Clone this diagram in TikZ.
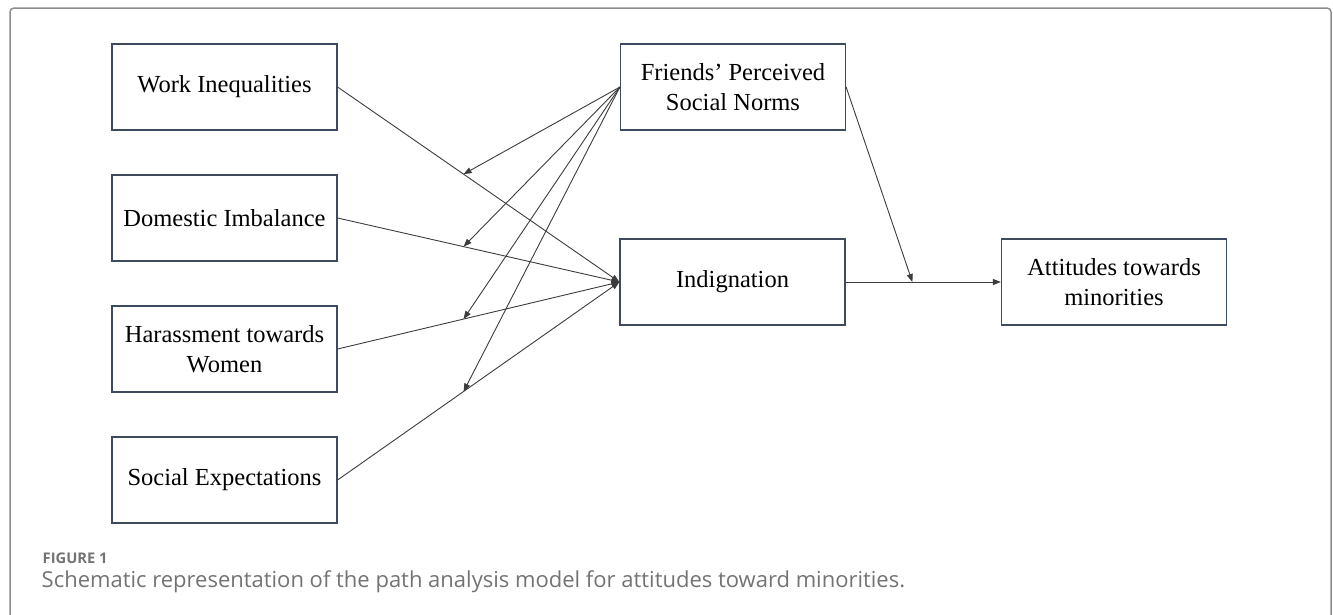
\documentclass[tikz,border=0pt]{standalone}
\usepackage{fontspec}
\setmainfont{Liberation Serif}
\newfontfamily\capfont{Open Sans}
\usetikzlibrary{arrows.meta}
\definecolor{boxline}{RGB}{62,75,95}
\definecolor{connline}{RGB}{60,60,60}
\definecolor{framegray}{RGB}{140,140,140}
\definecolor{capgray}{RGB}{115,115,115}
\tikzset{
  varbox/.style={draw=boxline, line width=1.2pt, minimum width=225pt, minimum height=86pt,
    inner sep=0pt, align=center, font=\fontsize{24.5}{29.5}\selectfont},
  conn/.style={draw=connline, line width=0.9pt, -{Triangle[length=8pt,width=6pt]}},
}
\begin{document}
\begin{tikzpicture}[x=1pt,y=-1pt]
\useasboundingbox (0,0) rectangle (1333,614);
\draw[framegray, line width=1.5pt, rounded corners=4pt] (10,620) -- (10,8) -- (1331,8) -- (1331,620);

\node[varbox] (work) at (224.5,87) {Work Inequalities};
\node[varbox] (dom) at (224.5,218) {Domestic Imbalance};
\node[varbox] (har) at (224.5,349) {Harassment towards\\Women};
\node[varbox] (soc) at (224.5,480) {Social Expectations};
\node[varbox] (fri) at (733,87) {Friends’ Perceived\\Social Norms};
\node[varbox] (ind) at (732.5,282) {Indignation};
\node[varbox] (att) at (1114,282) {Attitudes towards\\minorities};

\draw[conn] (work.east) -- coordinate[pos=0.447] (m1) (ind.west);
\draw[conn] (dom.east) -- coordinate[pos=0.447] (m2) (ind.west);
\draw[conn] (har.east) -- coordinate[pos=0.447] (m3) (ind.west);
\draw[conn] (soc.east) -- coordinate[pos=0.447] (m4) (ind.west);
\draw[conn] (ind.east) -- coordinate[pos=0.43] (m5) (att.west);

\draw[conn] (fri.west) -- (m1);
\draw[conn] (fri.west) -- (m2);
\draw[conn] (fri.west) -- (m3);
\draw[conn] (fri.west) -- (m4);
\draw[conn] (fri.east) -- (m5);

\node[anchor=base west, inner sep=0pt, text=capgray, font=\capfont\bfseries\fontsize{14.7}{16}\selectfont] (fig) at (42.5,563) {FIGURE 1};
\node[anchor=base west, inner sep=0pt, text=capgray, font=\capfont\fontsize{22}{24}\selectfont] (cap) at (41.5,587) {Schematic representation of the path analysis model for attitudes toward minorities.};
\end{tikzpicture}
\end{document}
